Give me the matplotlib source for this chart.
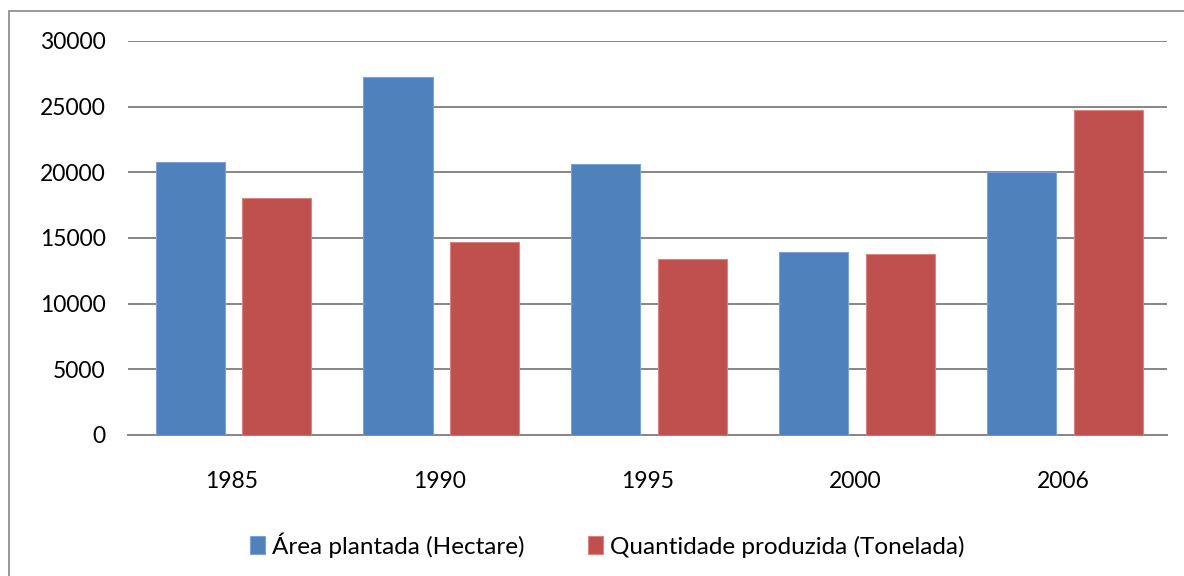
import matplotlib
matplotlib.use('Agg')
import matplotlib.pyplot as plt
import numpy as np
from matplotlib.patches import Rectangle

# values
years = ['1985', '1990', '1995', '2000', '2006']
area_plantada = [20800, 27280, 20600, 13950, 20000]
quantidade_produzida = [18050, 14700, 13400, 13800, 24750]
labels = ['Área plantada (Hectare)', 'Quantidade produzida (Tonelada)']
y_ticks = [0, 5000, 10000, 15000, 20000, 25000, 30000]

plt.rcParams['font.family'] = ['Lato', 'DejaVu Sans']

fig = plt.figure(figsize=(11.84, 5.76), dpi=100)
ax = fig.add_axes([0.108, 0.2448, 0.8776, 0.6842])

x = np.arange(len(years))
w = 0.333
ax.bar(x - 0.2, area_plantada, w, color='#4F81BD', edgecolor='#7FA3D0', linewidth=0.8, label=labels[0], zorder=3)
ax.bar(x + 0.217, quantidade_produzida, w, color='#C0504D', edgecolor='#D88582', linewidth=0.8, label=labels[1], zorder=3)

ax.set_xlim(-0.5, len(years) - 0.5)
ax.set_ylim(0, 30000)
ax.set_yticks(y_ticks)
ax.set_yticklabels([str(v) for v in y_ticks])
ax.set_xticks(x)
ax.set_xticklabels(years)
ax.tick_params(axis='both', length=0, labelsize=16.5)
ax.tick_params(axis='y', pad=16)
ax.tick_params(axis='x', pad=26)

ax.grid(axis='y', color='#868686', linewidth=1.4, zorder=0)
for s in ['top', 'right', 'left']:
    ax.spines[s].set_visible(False)
ax.spines['bottom'].set_color('#868686')
ax.spines['bottom'].set_linewidth(1.4)

ax.legend(loc='center', bbox_to_anchor=(0.513, 0.054), bbox_transform=fig.transFigure,
          ncol=2, frameon=False, fontsize=17.5, handlelength=0.6, handleheight=0.8,
          handletextpad=0.3, columnspacing=2.6)

# chart border (right and bottom edges fall outside the picture)
fig.patches.append(Rectangle((0.0072, -0.1), 1.2, 1.081, transform=fig.transFigure,
                             fill=False, edgecolor='#868686', linewidth=1.2))

fig.savefig('out.png', dpi=100)
